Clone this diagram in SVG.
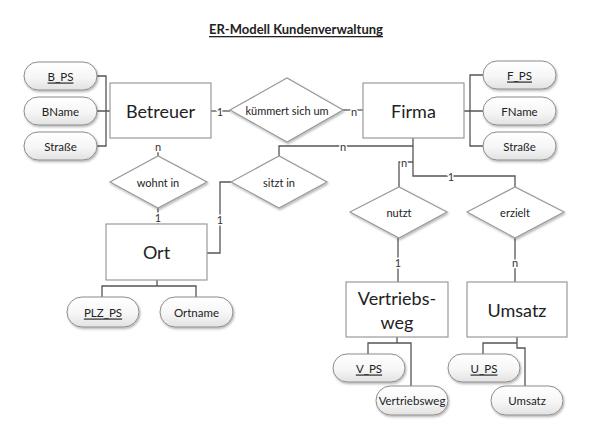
<svg xmlns="http://www.w3.org/2000/svg" width="590" height="438" viewBox="0 0 590 438">
<defs>
<linearGradient id="pillG" x1="0" y1="0" x2="0" y2="1">
<stop offset="0" stop-color="#ffffff"/>
<stop offset="0.55" stop-color="#f6f6f6"/>
<stop offset="1" stop-color="#e2e2e2"/>
</linearGradient>
<filter id="sh" x="-20%" y="-20%" width="140%" height="150%">
<feDropShadow dx="1" dy="1.5" stdDeviation="1" flood-color="#000" flood-opacity="0.3"/>
</filter>
</defs>
<style>
text{font-family:Lato,"Liberation Sans",sans-serif;fill:#222;text-anchor:middle;dominant-baseline:central}
.title{font-weight:bold;font-size:13px;text-decoration:underline}
.ent rect{fill:#fff;stroke:#9a9a9a;stroke-width:1.2}
.ent text{font-size:18px}
.rel polygon{fill:#fff;stroke:#9a9a9a;stroke-width:1.2;filter:url(#sh)}
.rel text{font-size:11px}
.att rect{fill:url(#pillG);stroke:#8c8c8c;stroke-width:1;filter:url(#sh)}
.att text{font-size:11.5px}
.pk{text-decoration:underline}
#connectors path{fill:none;stroke:#555;stroke-width:1.3}
#connectors text{font-size:11px;fill:#333;stroke:#fff;stroke-width:3;paint-order:stroke;stroke-linejoin:round}
</style>
<rect width="590" height="438" fill="#fff"/>
<text class="title" x="296" y="29">ER-Modell Kundenverwaltung</text>

<g id="connectors">
<path d="M97,76 H106 V146 H97 M97,111 H110"/>
<path d="M483,75 H470 V146 H483 M464,111 H483"/>
<path d="M211,111 H230"/>
<path d="M343,110 H363"/>
<path d="M158,151 V156"/>
<path d="M158,208 V224"/>
<path d="M279,156 V146 H413"/>
<path d="M231,182 H220 V253 H207"/>
<path d="M413,138 V176 H515 V187"/>
<path d="M399,187 V162 H413"/>
<path d="M398,238 V282"/>
<path d="M515,238 V282"/>
<path d="M157,280 V286 M102,297 V286 H196 V297"/>
<path d="M397,337 V343 M368,354 V343 H411 V386"/>
<path d="M517,337 V348 H525 V386 M517,343 H483 V354"/>
<text x="220" y="111">1</text>
<text x="354" y="111">n</text>
<text x="158" y="146">n</text>
<text x="158" y="217">1</text>
<text x="343" y="146">n</text>
<text x="220" y="219">1</text>
<text x="404" y="162">n</text>
<text x="451" y="176">1</text>
<text x="398" y="262">1</text>
<text x="515" y="262">n</text>
</g>

<g id="betreuer" class="ent"><rect x="110" y="83" width="101" height="55"/><text x="160.5" y="111">Betreuer</text></g>
<g id="firma" class="ent"><rect x="363" y="83" width="101" height="55"/><text x="413.5" y="111">Firma</text></g>
<g id="ort" class="ent"><rect x="106" y="224" width="101" height="56"/><text x="156.5" y="252">Ort</text></g>
<g id="vertriebsweg" class="ent"><rect x="346" y="282" width="102" height="55"/><text x="397" y="298">Vertriebs-</text><text x="397" y="322">weg</text></g>
<g id="umsatz" class="ent"><rect x="467" y="282" width="100" height="55"/><text x="517" y="310">Umsatz</text></g>

<g id="kuemmert" class="rel"><polygon points="230,110 287,78 343,110 287,142"/><text x="287" y="110">kümmert sich um</text></g>
<g id="wohnt" class="rel"><polygon points="110,182 158,156 207,182 158,208"/><text x="158" y="182">wohnt in</text></g>
<g id="sitzt" class="rel"><polygon points="231,182 279,156 327,182 279,208"/><text x="279" y="182">sitzt in</text></g>
<g id="nutzt" class="rel"><polygon points="350,212 399,187 447,212 399,238"/><text x="399" y="212">nutzt</text></g>
<g id="erzielt" class="rel"><polygon points="467,212 515,187 564,212 515,238"/><text x="515" y="212">erzielt</text></g>

<g id="b_ps" class="att"><rect x="24" y="62" width="73" height="28" rx="14"/><text class="pk" x="60.5" y="76">B_PS</text></g>
<g id="bname" class="att"><rect x="24" y="97" width="73" height="28" rx="14"/><text x="60.5" y="111">BName</text></g>
<g id="bstrasse" class="att"><rect x="24" y="132" width="73" height="28" rx="14"/><text x="60.5" y="146">Straße</text></g>
<g id="f_ps" class="att"><rect x="483" y="61" width="73" height="28" rx="14"/><text class="pk" x="519.5" y="75">F_PS</text></g>
<g id="fname" class="att"><rect x="483" y="97" width="73" height="28" rx="14"/><text x="519.5" y="111">FName</text></g>
<g id="fstrasse" class="att"><rect x="483" y="132" width="73" height="28" rx="14"/><text x="519.5" y="146">Straße</text></g>
<g id="plz_ps" class="att"><rect x="67" y="297" width="72" height="30" rx="15"/><text class="pk" x="103" y="312">PLZ_PS</text></g>
<g id="ortname" class="att"><rect x="160" y="297" width="73" height="30" rx="15"/><text x="196.5" y="312">Ortname</text></g>
<g id="v_ps" class="att"><rect x="333" y="354" width="72" height="28" rx="14"/><text class="pk" x="369" y="368">V_PS</text></g>
<g id="vweg" class="att"><rect x="376" y="386" width="72" height="29" rx="14.5"/><text x="412" y="400.5">Vertriebsweg</text></g>
<g id="u_ps" class="att"><rect x="448" y="354" width="72" height="28" rx="14"/><text class="pk" x="484" y="368">U_PS</text></g>
<g id="umsatz_att" class="att"><rect x="491" y="386" width="72" height="29" rx="14.5"/><text x="527" y="400.5">Umsatz</text></g>
</svg>
